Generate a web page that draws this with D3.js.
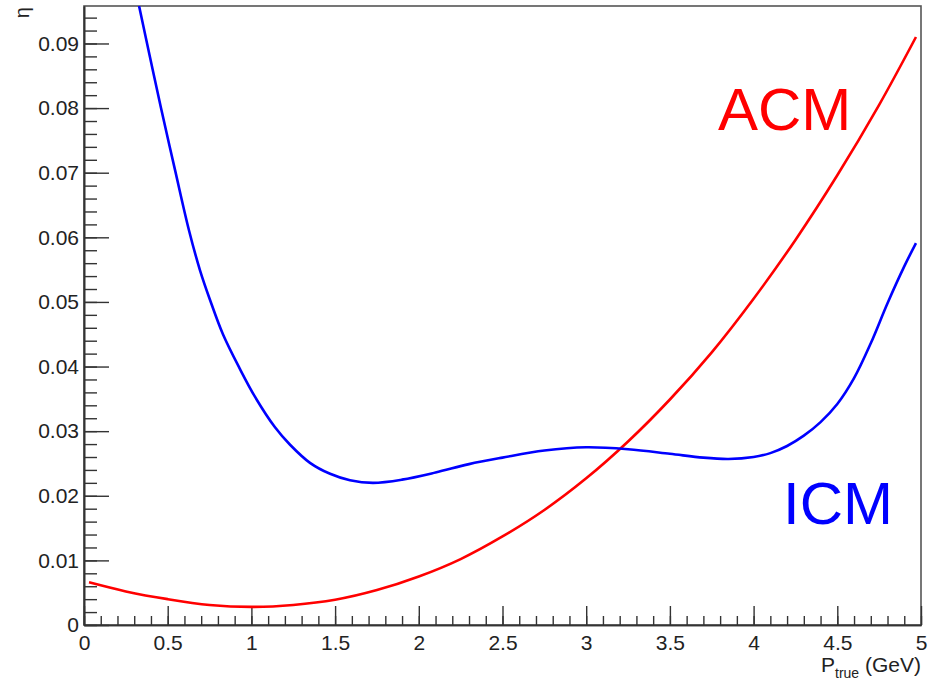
<!DOCTYPE html>
<html>
<head>
<meta charset="utf-8">
<script src="https://cdn.jsdelivr.net/npm/d3@7"></script>
<style>
  html, body { margin: 0; padding: 0; background: #fff; }
  svg { display: block; font-family: "Liberation Sans", Arial, Helvetica, sans-serif; }
</style>
</head>
<body>
<svg id="chart" width="933" height="680"></svg>
<script>
// ---- data ----
const acmX = [0.03, 0.25, 0.5, 0.75, 1.0, 1.25, 1.5, 1.75, 2.0, 2.25, 2.5, 2.75, 3.0, 3.25, 3.5, 3.75, 4.0, 4.25, 4.5, 4.75, 4.97];
const acmY = [0.0066, 0.0052, 0.0040, 0.0031, 0.0028, 0.0031, 0.0039, 0.0054, 0.0075, 0.0102, 0.0137, 0.0178, 0.0227, 0.0284, 0.0349, 0.0422, 0.0505, 0.0596, 0.0696, 0.0805, 0.0910];
const icmX = [0.329, 0.394, 0.46, 0.544, 0.627, 0.693, 0.753, 0.83, 0.932, 1.022, 1.141, 1.231, 1.35, 1.47, 1.589, 1.726, 1.9, 2.1, 2.3, 2.5, 2.75, 3.0, 3.25, 3.5, 3.7, 3.85, 4.0, 4.1, 4.2, 4.3, 4.4, 4.5, 4.6, 4.7, 4.8, 4.9, 4.97];
const icmY = [0.0958, 0.0879, 0.0800, 0.0704, 0.0611, 0.0549, 0.0503, 0.0450, 0.0396, 0.0353, 0.0306, 0.0279, 0.0251, 0.0234, 0.0224, 0.0220, 0.0225, 0.0236, 0.0249, 0.0259, 0.0270, 0.0275, 0.0272, 0.0265, 0.0259, 0.0257, 0.0260, 0.0266, 0.0277, 0.0293, 0.0314, 0.0342, 0.0382, 0.0436, 0.0498, 0.0555, 0.0591];
const xTicks = [0, 0.5, 1, 1.5, 2, 2.5, 3, 3.5, 4, 4.5, 5];
const yTicks = [0, 0.01, 0.02, 0.03, 0.04, 0.05, 0.06, 0.07, 0.08, 0.09];
const xMinorTicks = d3.range(0, 51, 1).map(d => d / 10);
const yMinorTicks = d3.range(0, 48, 1).map(d => d * 0.002).filter(v => v <= 0.0958);
const seriesLabels = ["ACM", "ICM"];

// ---- layout ----
const L = 84, R = 921, T = 6, B = 625;
const svg = d3.select("#chart");
const x = d3.scaleLinear().domain([0, 5]).range([L, R]);
const y = d3.scaleLinear().domain([0, 0.0958]).range([B, T]);

svg.append("defs").append("clipPath").attr("id", "plotclip")
  .append("rect").attr("x", L).attr("y", T).attr("width", R - L).attr("height", B - T);

// frame
svg.append("rect").attr("x", L).attr("y", T).attr("width", R - L).attr("height", B - T)
  .attr("fill", "none").attr("stroke", "#555").attr("stroke-width", 1.6);

// y axis
const yMinor = svg.append("g").attr("transform", `translate(${L},0)`)
  .call(d3.axisLeft(y).tickValues(yMinorTicks).tickSizeInner(-13).tickSizeOuter(0).tickFormat(""));
const yMajor = svg.append("g").attr("transform", `translate(${L},0)`)
  .call(d3.axisLeft(y).tickValues(yTicks).tickSizeInner(-25).tickSizeOuter(0).tickPadding(5)
    .tickFormat(d => d === 0 ? "0" : d3.format(".2f")(d)));

// x axis
const xMinor = svg.append("g").attr("transform", `translate(0,${B})`)
  .call(d3.axisBottom(x).tickValues(xMinorTicks).tickSizeInner(-9).tickSizeOuter(0).tickFormat(""));
const xMajor = svg.append("g").attr("transform", `translate(0,${B})`)
  .call(d3.axisBottom(x).tickValues(xTicks).tickSizeInner(-19).tickSizeOuter(0).tickPadding(10)
    .tickFormat(d => String(d)));

[yMinor, yMajor, xMinor, xMajor].forEach(g => {
  g.selectAll(".domain").attr("stroke", "#333").attr("stroke-width", 1.6);
  g.selectAll(".tick line").attr("stroke", "#333").attr("stroke-width", 1.4);
  g.selectAll(".tick text").attr("fill", "#222").style("font-size", "21px")
    .style("font-family", "'Liberation Sans', Arial, Helvetica, sans-serif");
});

// curves
const line = d3.line().x(d => x(d[0])).y(d => y(d[1])).curve(d3.curveCatmullRom.alpha(0.5));
const plot = svg.append("g").attr("clip-path", "url(#plotclip)");
plot.append("path").datum(d3.zip(acmX, acmY)).attr("d", line)
  .attr("fill", "none").attr("stroke", "#ff0000").attr("stroke-width", 2.6);
plot.append("path").datum(d3.zip(icmX, icmY)).attr("d", line)
  .attr("fill", "none").attr("stroke", "#0000ff").attr("stroke-width", 2.6);

// labels
svg.append("text").attr("x", 718).attr("y", 130).attr("fill", "#ff0000")
  .style("font-size", "60px").text(seriesLabels[0]);
svg.append("text").attr("x", 783).attr("y", 524).attr("fill", "#0000ff")
  .style("font-size", "60px").text(seriesLabels[1]);

// axis titles
const xt = svg.append("text").attr("x", R).attr("y", 672).attr("text-anchor", "end")
  .attr("fill", "#222").style("font-size", "21px");
xt.append("tspan").text("P");
xt.append("tspan").attr("dy", 6).style("font-size", "14px").text("true");
xt.append("tspan").attr("dy", -6).text(" (GeV)");

svg.append("text").attr("transform", "translate(29,7) rotate(-90)")
  .attr("text-anchor", "end").attr("fill", "#222").style("font-size", "20px").text("η");
</script>
</body>
</html>
